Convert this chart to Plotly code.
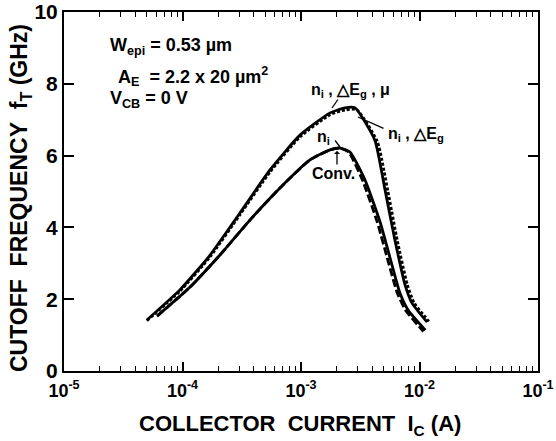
import plotly.graph_objects as go

# ---- data ----
# n_i, ΔEg, μ  (upper, solid)
x_ni_dEg_mu = [5.0e-5, 9.5e-5, 1.71e-4, 3.05e-4, 5.47e-4, 9.8e-4, 1.76e-3, 2.35e-3, 2.86e-3,
               4.2e-3, 5.12e-3, 6.2e-3, 7.55e-3, 8.65e-3, 1.16e-2]
y_ni_dEg_mu = [1.42, 2.26, 3.23, 4.40, 5.60, 6.57, 7.19, 7.33, 7.33,
               6.43, 5.04, 3.65, 2.40, 1.89, 1.36]
# n_i, ΔEg  (upper, dotted)
x_ni_dEg = [5.0e-5, 9.5e-5, 1.71e-4, 3.05e-4, 5.5e-4, 9.8e-4, 1.76e-3, 2.35e-3, 2.95e-3,
            4.4e-3, 5.4e-3, 6.5e-3, 7.9e-3, 9.0e-3, 1.2e-2]
y_ni_dEg = [1.40, 2.22, 3.18, 4.35, 5.55, 6.52, 7.14, 7.27, 7.28,
            6.40, 5.02, 3.63, 2.40, 1.90, 1.38]
# n_i  (lower, solid)
x_ni = [6.1e-5, 1.16e-4, 2.07e-4, 3.72e-4, 6.65e-4, 1.19e-3, 1.76e-3, 2.13e-3, 2.59e-3,
        3.47e-3, 4.65e-3, 5.86e-3, 6.84e-3, 8.0e-3, 1.12e-2]
y_ni = [1.53, 2.34, 3.23, 4.21, 5.10, 5.88, 6.16, 6.21, 6.10,
        5.32, 4.15, 2.95, 2.17, 1.70, 1.14]
# Conv.  (lower, dashed)
x_conv = [6.1e-5, 1.16e-4, 2.07e-4, 3.72e-4, 6.65e-4, 1.19e-3, 1.76e-3, 2.13e-3, 2.52e-3,
          3.3e-3, 4.4e-3, 5.55e-3, 6.5e-3, 7.6e-3, 1.08e-2]
y_conv = [1.53, 2.34, 3.23, 4.21, 5.10, 5.88, 6.16, 6.21, 6.10,
          5.32, 4.15, 2.95, 2.17, 1.70, 1.10]

x_tickvals = [1e-5, 1e-4, 1e-3, 1e-2, 1e-1]
x_ticktext = ["10<sup>-5</sup>", "10<sup>-4</sup>", "10<sup>-3</sup>", "10<sup>-2</sup>", "10<sup>-1</sup>"]
y_tickvals = [0, 2, 4, 6, 8, 10]

FONT = "Liberation Sans, Arial, Helvetica, sans-serif"
SP2 = "\u00a0\u00a0"
x_title = "COLLECTOR" + SP2 + "CURRENT" + SP2 + "I<sub>C</sub> (A)"
y_title = "CUTOFF" + SP2 + "FREQUENCY" + SP2 + "f<sub>T</sub> (GHz)"

fig = go.Figure()
series = [
    (x_ni_dEg_mu, y_ni_dEg_mu, "solid", 2.8, "n_i, ΔEg, μ"),
    (x_ni_dEg, y_ni_dEg, "3px,2px", 2.8, "n_i, ΔEg"),
    (x_ni, y_ni, "solid", 2.8, "n_i"),
    (x_conv, y_conv, "8px,3px", 2.8, "Conv."),
]
for xs, ys, dash, w, name in series:
    fig.add_trace(go.Scatter(x=xs, y=ys, mode="lines", name=name,
                             line=dict(color="black", width=w, dash=dash,
                                       shape="spline", smoothing=0.5),
                             showlegend=False))

minor_vals = [k * 10.0 ** e for e in range(-5, -1) for k in range(2, 10)]

fig.update_xaxes(type="log", range=[-5, -1], automargin=False,
                 tickmode="array", tickvals=x_tickvals, ticktext=x_ticktext,
                 ticks="inside", ticklen=9, tickwidth=1.5, tickcolor="black",
                 minor=dict(tickmode="array", tickvals=minor_vals, ticks="inside",
                            ticklen=5, tickwidth=1.2, tickcolor="black", showgrid=False),
                 showline=True, linewidth=2, linecolor="black", mirror="allticks",
                 showgrid=False, zeroline=False, ticklabelstandoff=2,
                 tickfont=dict(family=FONT, size=18, color="black", weight="bold"))
fig.update_yaxes(range=[0, 10], automargin=False,
                 tickmode="array", tickvals=y_tickvals,
                 ticks="inside", ticklen=10, tickwidth=1.5, tickcolor="black",
                 showline=True, linewidth=2, linecolor="black", mirror="allticks",
                 showgrid=False, zeroline=False,
                 tickfont=dict(family=FONT, size=21, color="black", weight="bold"))

W, H = 556, 441
L, R, T, B = 64, 538, 12, 371
def px(xp):
    return (xp - L) / (R - L)
def py(yp):
    return (B - yp) / (B - T)

title_font_x = dict(family=FONT, size=22, color="black", weight="bold")
title_font_y = dict(family=FONT, size=23, color="black", weight="bold")
fig.add_annotation(text=x_title, xref="paper", yref="paper", x=px(300), y=py(425),
                   xanchor="center", yanchor="middle", showarrow=False, font=title_font_x)
fig.add_annotation(text=y_title, xref="paper", yref="paper", x=px(21), y=py(198),
                   xanchor="center", yanchor="middle", showarrow=False, textangle=-90,
                   font=title_font_y)

txt_font = dict(family=FONT, size=18, color="black", weight="bold")
lbl_font = dict(family=FONT, size=16, color="black", weight="bold")
annos = [
    ("W<sub>epi</sub> = 0.53 µm", 108, 47, txt_font),
    ("A<sub>E</sub>" + SP2 + "= 2.2 x 20 µm<sup>2</sup>", 116, 76, txt_font),
    ("V<sub>CB</sub> = 0 V", 108, 99, txt_font),
    ("n<sub>i</sub> , △E<sub>g</sub> , μ", 309, 90, lbl_font),
    ("n<sub>i</sub> , △E<sub>g</sub>", 386, 134, lbl_font),
    ("n<sub>i</sub>", 315, 137, lbl_font),
    ("Conv.", 310, 174, lbl_font),
]
for t, xp, yp, f in annos:
    fig.add_annotation(text=t, xref="paper", yref="paper", x=px(xp), y=py(yp),
                       xanchor="left", yanchor="middle", showarrow=False, font=f)

# leader lines / arrow
leaders = [
    (332, 108, 7, -10, 0),
    (358, 117, 27, 12, 0),
    (340, 147, -6, -8, 0),
]
for xp, yp, ax, ay, head in leaders:
    fig.add_annotation(text="", xref="paper", yref="paper", x=px(xp), y=py(yp),
                       ax=ax, ay=ay, showarrow=True, arrowhead=head, arrowwidth=1.3,
                       arrowcolor="black")
fig.add_annotation(text="", xref="paper", yref="paper", x=px(337), y=py(151),
                   ax=0, ay=15, showarrow=True, arrowhead=1, arrowsize=0.8,
                   arrowwidth=1.3, arrowcolor="black")

fig.update_layout(width=W, height=H,
                  margin=dict(l=L, r=W - R, t=T, b=H - B),
                  paper_bgcolor="white", plot_bgcolor="white",
                  font=dict(family=FONT, color="black"))

# remove the browser's default 8px body margin so the figure sits at the page origin
fig.write_html("out.html", config={"displayModeBar": False},
               post_script="document.body.style.margin='0px';document.body.style.overflow='hidden';")
